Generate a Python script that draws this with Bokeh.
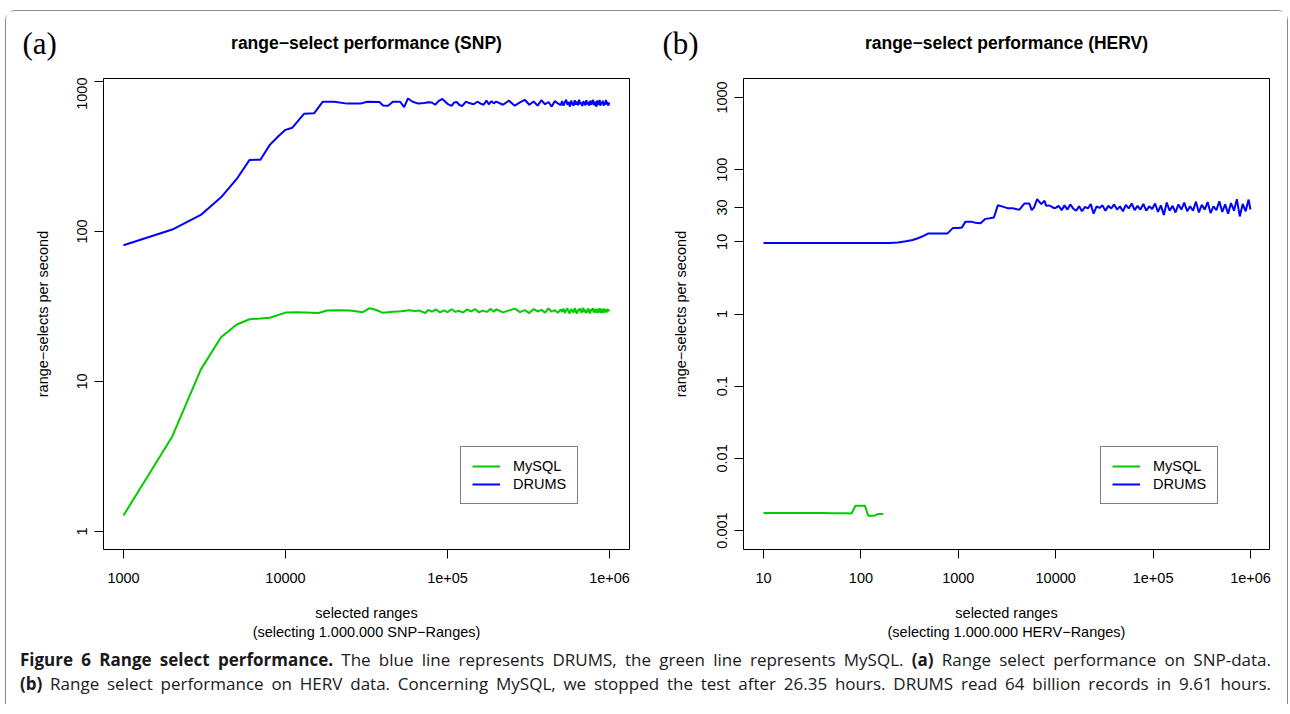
from bokeh.plotting import figure
from bokeh.models import Range1d, FixedTicker, Legend, LegendItem, Label, Div
from bokeh.layouts import row, column
from bokeh.embed import file_html
from bokeh.resources import INLINE

# ---------------- data ----------------
# (a) SNP panel
snp_drums_x = [1000, 2000, 3000, 4000, 5000, 6000, 7000, 8000, 9000, 10000,
               11000, 13000, 15000, 17000, 20000, 24000, 29000, 32000, 38000, 40000,
               43000, 46000, 51000, 54000, 57000, 61000, 66000, 72000, 76000, 80000,
               84000, 88000, 93000, 100000, 106000, 110000, 114000, 118000, 123000, 130000,
               136000, 145000, 153000, 160000, 167000, 174000, 180000, 187000, 193000]
snp_drums_y = [81, 103, 129, 169, 224, 300, 301, 378, 430, 476,
               491, 609, 613, 733, 733, 712, 712, 733, 730, 692,
               690, 733, 733, 674, 770, 733, 712, 718, 726, 724,
               700, 740, 765, 710, 688, 725, 730, 700, 685, 735,
               718, 705, 733, 712, 700, 745, 705, 740, 715]

snp_mysql_x = [1000, 2000, 3000, 4000, 5000, 6000, 7000, 8000, 10000, 12000,
               16000, 18000, 21000, 25000, 30000, 33000, 36000, 40000, 46000, 52000,
               58000, 63000, 67000, 73000, 76000, 80000, 85000, 90000, 95000, 100000,
               106000, 112000, 118000, 125000, 132000, 140000, 148000, 156000, 165000, 175000,
               185000, 193000]
snp_mysql_y = [1.28, 4.3, 12.0, 19.7, 24.0, 26.0, 26.3, 26.6, 28.8, 29.0,
               28.6, 29.7, 29.8, 29.7, 29.0, 30.8, 30.1, 28.7, 29.2, 29.4,
               29.9, 29.5, 29.7, 28.6, 30.0, 29.2, 30.2, 28.9, 29.8, 29.0,
               30.3, 29.1, 29.6, 28.8, 30.2, 29.3, 30.4, 28.9, 29.7, 29.1,
               30.5, 29.2]

# dense, noisy tail of both SNP series (shared sampling positions)
snp_tail_x = [200000, 220000, 240000, 260000, 280000, 300000, 320000, 340000, 360000, 380000,
              400000, 420000, 440000, 460000, 480000, 500000,
              510000, 520000, 530000, 540000, 550000, 560000, 570000, 580000, 590000, 600000,
              610000, 620000, 630000, 640000, 650000, 660000, 670000, 680000, 690000, 700000,
              710000, 720000, 730000, 740000, 750000, 760000, 770000, 780000, 790000, 800000,
              810000, 820000, 830000, 840000, 850000, 860000, 870000, 880000, 890000, 900000,
              910000, 920000, 930000, 940000, 950000, 960000, 970000, 980000, 990000, 1000000]
snp_drums_tail_y = [735, 700, 745, 690, 725, 755, 700, 735, 690, 750,
                    705, 730, 680, 740, 715, 695,
                    740, 690, 725, 755, 700, 730, 680, 745, 710, 690,
                    750, 700, 735, 695, 755, 705, 725, 685, 740, 715,
                    695, 750, 705, 730, 690, 745, 700, 725, 755, 695,
                    735, 705, 680, 745, 715, 700, 755, 690, 730, 710,
                    745, 690, 725, 700, 755, 705, 735, 690, 720, 700]
snp_mysql_tail_y = [30.3, 28.9, 29.8, 30.6, 29.0, 29.9, 28.6, 30.4, 29.3, 30.0,
                    28.8, 30.7, 29.2, 29.9, 28.7, 30.3,
                    29.1, 30.6, 28.6, 29.9, 30.8, 29.0, 28.5, 30.4, 29.6, 28.8,
                    30.9, 29.3, 28.4, 30.2, 29.7, 30.8, 28.7, 29.5, 31.0, 28.9,
                    30.1, 28.6, 29.8, 30.7, 29.0, 28.5, 30.5, 29.4, 30.9, 28.8,
                    29.9, 30.3, 28.6, 30.6, 29.2, 28.9, 30.8, 29.5, 28.7, 30.4,
                    29.8, 28.6, 30.7, 29.1, 30.2, 28.8, 30.5, 29.4, 29.9, 29.6]

# (b) HERV panel
herv_drums_x = [10, 20, 50, 100, 150, 195, 240, 290, 340, 385,
                440, 489, 600, 771, 877, 1000, 1090, 1180, 1380, 1500,
                1690, 1900, 2100, 2320, 2550, 2800, 3190, 3600, 3900, 4220,
                4760, 5370, 5670, 6000, 6450, 7100, 7680, 7980, 8500, 9000,
                9500]
herv_drums_y = [9.6, 9.6, 9.6, 9.6, 9.6, 9.6, 9.8, 10.2, 10.6, 11.2,
                12.1, 13.0, 13.0, 13.0, 15.5, 15.6, 15.8, 18.9, 18.9, 18.4,
                18.1, 20.8, 21.2, 21.7, 32.2, 31.0, 29.3, 29.3, 28.5, 27.7,
                33.9, 33.9, 27.5, 30.0, 39.0, 33.3, 37.0, 31.5, 32.0, 31.0,
                29.5]
herv_tail_x = [10000, 10700, 11500, 12300, 13200, 14100, 15100, 16200, 17400, 18600,
               20000, 21400, 22900, 24500, 26300, 28200, 30200, 32400, 34700, 37200,
               39800, 42700, 45700, 49000, 52500, 56200, 60300, 64600, 69200, 74100,
               79400, 85100, 91200, 97700, 104700, 112200, 120200, 128800, 138000, 147900,
               158500, 169800, 182000, 195000, 208900, 223900, 239900, 257000, 275400, 295100,
               316200, 338800, 363100, 389000, 416900, 446700, 478600, 512900, 549500, 588800,
               631000, 676100, 724400, 776200, 831800, 891300, 955000, 1000000]
herv_tail_y = [29.5, 31.5, 27.5, 32, 28, 33, 29, 27, 31, 26.5,
               30.5, 29, 33.5, 24.5, 31, 29.5, 32, 27, 31.5, 29,
               33, 28, 31, 26.5, 32.5, 29, 34, 27.5, 31.5, 28,
               33.5, 27, 31, 28.5, 34, 26, 32, 23.5, 35, 27,
               31.5, 25.5, 33, 28, 35, 26.5, 31, 27, 36, 25.5,
               32.5, 28, 35.5, 25, 31, 27.5, 36.5, 26, 33, 24.5,
               34.5, 27, 39, 22.5, 33.5, 26.5, 38.5, 28]
herv_mysql_x = [10, 20, 30, 40, 50, 60, 70, 80, 88, 100, 110, 119, 130, 140, 151, 160, 170]
herv_mysql_y = [0.00175, 0.00175, 0.00175, 0.00175, 0.00174, 0.00174, 0.00173, 0.00172, 0.0022,
                0.0022, 0.0022, 0.0016, 0.0016, 0.00162, 0.0017, 0.0017, 0.0017]

# axes / ticks
snp_xticks = [1000, 10000, 100000, 1000000]
snp_xlabels = ["1000", "10000", "1e+05", "1e+06"]
snp_yticks = [1, 10, 100, 1000]
snp_ylabels = ["1", "10", "100", "1000"]
herv_xticks = [10, 100, 1000, 10000, 100000, 1000000]
herv_xlabels = ["10", "100", "1000", "10000", "1e+05", "1e+06"]
herv_yticks = [0.001, 0.01, 0.1, 1, 10, 30, 100, 1000]
herv_ylabels = ["0.001", "0.01", "0.1", "1", "10", "30", "100", "1000"]

legend_labels = ["MySQL", "DRUMS"]
titles = ["range\u2212select performance (SNP)", "range\u2212select performance (HERV)"]
tags = ["(a)", "(b)"]
xtitles = ["selected ranges\n(selecting 1.000.000 SNP\u2212Ranges)",
           "selected ranges\n(selecting 1.000.000 HERV\u2212Ranges)"]
ytitle = "range\u2212selects per second"

caption_lines = [
    "<b>Figure 6 Range select performance.</b> The blue line represents DRUMS, the green line represents MySQL. "
    "<b>(a)</b> Range select performance on SNP-data.",
    "<b>(b)</b> Range select performance on HERV data. Concerning MySQL, we stopped the test after 26.35 hours. "
    "DRUMS read 64 billion records in 9.61 hours.",
]

FONT = "Liberation Sans"
GREEN = "#00cd00"
BLUE = "#0000ff"
FS = "14.5px"


def make_panel(width, bl, br, xr, yr, xticks, xlabels, yticks, ylabels,
               xtitle, mysql, drums, ystand):
    p = figure(width=width, height=571, x_axis_type="log", y_axis_type="log",
               x_range=Range1d(*xr), y_range=Range1d(*yr),
               min_border_left=bl, min_border_right=br,
               min_border_top=1, min_border_bottom=99,
               output_backend="svg", toolbar_location=None, tools="")
    p.grid.visible = False
    p.background_fill_color = "white"
    p.border_fill_color = "white"
    p.outline_line_color = "black"
    p.outline_line_width = 1
    p.outline_line_alpha = 1.0

    p.xaxis.ticker = FixedTicker(ticks=xticks, minor_ticks=[])
    p.yaxis.ticker = FixedTicker(ticks=yticks, minor_ticks=[])
    p.xaxis.major_label_overrides = {t: l for t, l in zip(xticks, xlabels)}
    p.yaxis.major_label_overrides = {t: l for t, l in zip(yticks, ylabels)}
    for ax in (p.xaxis[0], p.yaxis[0]):
        ax.axis_line_color = None
        ax.major_tick_out = 9
        ax.major_tick_in = 0
        ax.minor_tick_out = 0
        ax.minor_tick_in = 0
        ax.major_tick_line_color = "black"
        ax.major_tick_line_width = 1
        ax.major_label_text_font = FONT
        ax.major_label_text_font_size = FS
        ax.major_label_text_color = "black"
        ax.axis_label_text_font = FONT
        ax.axis_label_text_font_size = FS
        ax.axis_label_text_font_style = "normal"
        ax.axis_label_text_color = "black"
    p.xaxis.major_label_standoff = 14
    p.yaxis.major_label_standoff = 7
    p.yaxis.major_label_orientation = "vertical"
    p.xaxis.axis_label = xtitle
    p.yaxis.axis_label = ytitle
    p.xaxis.axis_label_standoff = 19
    p.yaxis.axis_label_standoff = ystand

    rm = p.line(mysql[0], mysql[1], line_color=GREEN, line_width=2)
    rd = p.line(drums[0], drums[1], line_color=BLUE, line_width=2)

    legend = Legend(items=[LegendItem(label=legend_labels[0], renderers=[rm]),
                           LegendItem(label=legend_labels[1], renderers=[rd])],
                    location=(357, 45), orientation="vertical", margin=0,
                    padding=11, spacing=2, glyph_width=28, glyph_height=16,
                    label_height=16, label_standoff=13,
                    label_text_font=FONT, label_text_font_size=FS,
                    label_text_color="black",
                    border_line_color="black", border_line_width=1,
                    background_fill_color="white", background_fill_alpha=1.0)
    p.add_layout(legend, "center")
    return p


# header strip holding the panel titles and the (a)/(b) tags
HEAD_W, HEAD_H = 1281, 66
header = figure(width=HEAD_W, height=HEAD_H, x_range=Range1d(0, HEAD_W), y_range=Range1d(0, HEAD_H),
                x_axis_location=None, y_axis_location=None,
                min_border_left=0, min_border_right=0, min_border_top=0, min_border_bottom=0,
                output_backend="svg", toolbar_location=None, tools="")
header.grid.visible = False
header.outline_line_color = None
header.background_fill_color = "white"
header.border_fill_color = "white"
for cx, t in zip([360, 1000], titles):
    header.add_layout(Label(x=cx, y=35, text=t, text_align="center", text_baseline="middle",
                            text_font=FONT, text_font_style="bold", text_font_size="17.5px",
                            text_color="black"))
for lx, t in zip([16, 656], tags):
    header.add_layout(Label(x=lx, y=34, text=t, text_align="left", text_baseline="middle",
                            text_font="Liberation Serif", text_font_size="31px", text_color="black"))

p1 = make_panel(640, 97, 17, (752.5, 1.329e6), (0.7586, 1047.0),
                snp_xticks, snp_xlabels, snp_yticks, snp_ylabels, xtitles[0],
                (snp_mysql_x + snp_tail_x, snp_mysql_y + snp_mysql_tail_y),
                (snp_drums_x + snp_tail_x, snp_drums_y + snp_drums_tail_y), 24)
p2 = make_panel(641, 97, 18, (6.23, 1.567e6), (5.46e-4, 1832.0),
                herv_xticks, herv_xlabels, herv_yticks, herv_ylabels, xtitles[1],
                (herv_mysql_x, herv_mysql_y),
                (herv_drums_x + herv_tail_x, herv_drums_y + herv_tail_y), 26)

line_style = "text-align:justify;text-align-last:justify;"
html = ("<div style=\"font-family:'Open Sans';font-size:17px;line-height:24px;color:#1a1a1a;"
        "padding-left:14px;width:1265px;\">"
        + "".join("<div style=\"%s\">%s</div>" % (line_style, l) for l in caption_lines)
        + "</div>")
caption = Div(text=html, width=1281, height=56, margin=0)

layout = column(header, row(p1, p2), caption, margin=(10, 0, 0, 5),
                styles={"border-top": "1px solid #8a8a8a", "border-left": "1px solid #8a8a8a",
                        "border-right": "1px solid #8a8a8a", "border-radius": "10px 10px 0 0"})

open("out.html", "w", encoding="utf-8").write(file_html(layout, INLINE))
